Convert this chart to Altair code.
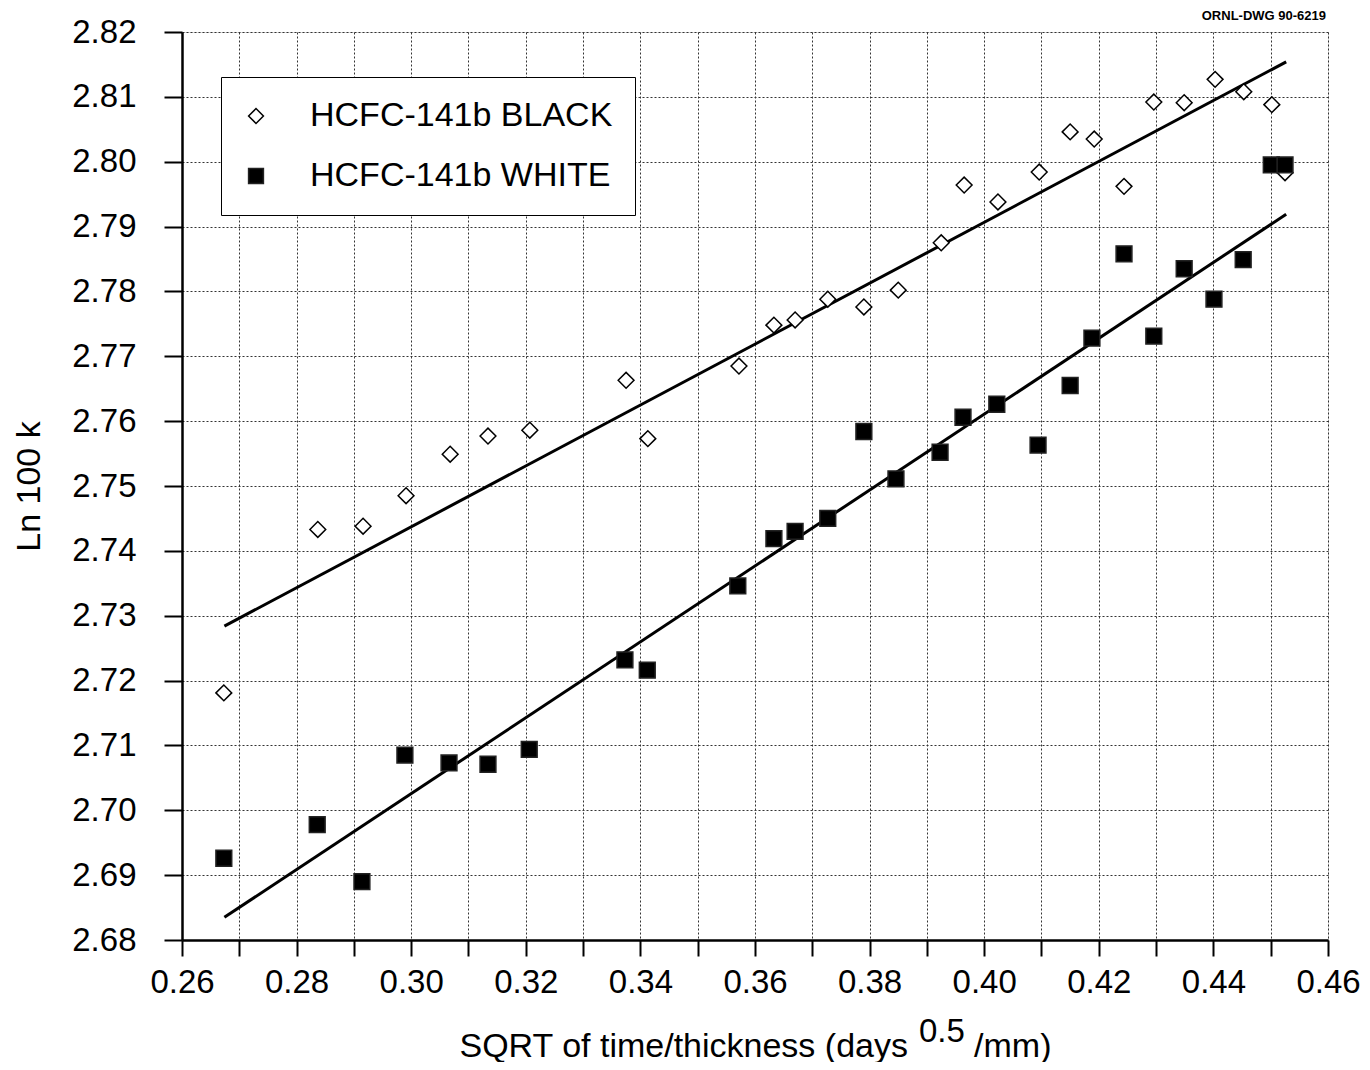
import altair as alt
import pandas as pd

# ---- data ----
sqrt_t = [0.2673, 0.2837, 0.2916, 0.2991, 0.3068, 0.3134, 0.3207, 0.3375, 0.3413,
          0.3572, 0.3633, 0.3670, 0.3727, 0.3790, 0.3850, 0.3925, 0.3965, 0.4024,
          0.4096, 0.4150, 0.4192, 0.4244, 0.4296, 0.4349, 0.4403, 0.4453, 0.4502, 0.4525]
black_ln = [2.7181, 2.7433, 2.7438, 2.7485, 2.7549, 2.7577, 2.7586, 2.7663, 2.7573,
            2.7685, 2.7748, 2.7756, 2.7788, 2.7776, 2.7802, 2.7875, 2.7964, 2.7938,
            2.7984, 2.8046, 2.8035, 2.7962, 2.8092, 2.8091, 2.8127, 2.8108, 2.8088, 2.7983]
sqrt_t_w = [0.2673, 0.2836, 0.2914, 0.2989, 0.3066, 0.3134, 0.3206, 0.3373, 0.3412,
            0.3570, 0.3633, 0.3670, 0.3727, 0.3790, 0.3846, 0.3923, 0.3963, 0.4022,
            0.4094, 0.4150, 0.4188, 0.4244, 0.4296, 0.4349, 0.4401, 0.4452, 0.4501, 0.4525]
white_ln = [2.6926, 2.6978, 2.6890, 2.7085, 2.7073, 2.7071, 2.7094, 2.7232, 2.7216,
            2.7346, 2.7419, 2.7430, 2.7450, 2.7584, 2.7511, 2.7552, 2.7606, 2.7626,
            2.7563, 2.7655, 2.7728, 2.7858, 2.7731, 2.7835, 2.7788, 2.7849, 2.7995, 2.7995]

fit_x = [0.2674, 0.4527]
fit_black = [2.7284, 2.8154]
fit_white = [2.6835, 2.7919]

series_names = ["HCFC-141b BLACK", "HCFC-141b WHITE"]
x_ticks = [0.26, 0.27, 0.28, 0.29, 0.30, 0.31, 0.32, 0.33, 0.34, 0.35, 0.36,
           0.37, 0.38, 0.39, 0.40, 0.41, 0.42, 0.43, 0.44, 0.45, 0.46]
y_ticks = [2.68, 2.69, 2.70, 2.71, 2.72, 2.73, 2.74, 2.75, 2.76, 2.77, 2.78,
           2.79, 2.80, 2.81, 2.82]

pts = pd.DataFrame({
    "x": sqrt_t + sqrt_t_w,
    "y": black_ln + white_ln,
    "series": [series_names[0]] * len(sqrt_t) + [series_names[1]] * len(sqrt_t_w),
})
fits = pd.DataFrame({
    "x": fit_x + fit_x,
    "y": fit_black + fit_white,
    "series": [series_names[0]] * 2 + [series_names[1]] * 2,
})

REG = "Liberation Sans, Arial, Helvetica"
NB = "\u00a0"

xscale = alt.Scale(domain=[0.26, 0.46], nice=False, zero=False)
yscale = alt.Scale(domain=[2.68, 2.82], nice=False, zero=False)

xaxis = alt.Axis(
    values=x_ticks,
    labelExpr="round(datum.value*100) % 2 == 0 ? format(datum.value, '.2f') : ''",
    labelFont=REG, labelFontSize=33, labelColor="black", labelPadding=10,
    labelFlush=False, labelOverlap=False,
    tickSize=16, tickWidth=2, tickColor="black",
    domainColor="black", domainWidth=2.5,
    grid=True, gridDash=[2, 2], gridColor="#333", gridWidth=1,
    title="SQRT of time/thickness (days" + NB * 7 + "/mm)",
    titleFont=REG, titleFontSize=34, titleFontWeight="normal", titleColor="black",
    titlePadding=30,
)
yaxis = alt.Axis(
    values=y_ticks, format=".2f",
    labelFont=REG, labelFontSize=33, labelColor="black", labelPadding=28,
    labelOverlap=False,
    tickSize=18, tickWidth=2, tickColor="black",
    domainColor="black", domainWidth=2.5,
    grid=True, gridDash=[2, 2], gridColor="#333", gridWidth=1,
    title="Ln 100 k",
    titleFont=REG, titleFontSize=34, titleFontWeight="normal", titleColor="black",
    titlePadding=25,
)

legend = alt.Legend(
    title=None, orient="none", legendX=39, legendY=45,
    labelFont=REG, labelFontSize=34, labelColor="black", labelLimit=500,
    labelOffset=37, symbolOffset=-4, symbolSize=220, symbolStrokeWidth=1.5,
    rowPadding=26, padding=22, strokeColor="black", fillColor="white",
)

points = alt.Chart(pts).mark_point(filled=True, size=250, strokeWidth=1.5, opacity=1).encode(
    x=alt.X("x:Q", scale=xscale, axis=xaxis),
    y=alt.Y("y:Q", scale=yscale, axis=yaxis),
    shape=alt.Shape("series:N", scale=alt.Scale(domain=series_names, range=["diamond", "square"]), legend=legend),
    fill=alt.Fill("series:N", scale=alt.Scale(domain=series_names, range=["white", "black"]), legend=legend),
    stroke=alt.Stroke("series:N", scale=alt.Scale(domain=series_names, range=["black", "#222"]), legend=legend),
)

lines = alt.Chart(fits).mark_line(color="black", strokeWidth=3).encode(
    x=alt.X("x:Q", scale=xscale),
    y=alt.Y("y:Q", scale=yscale),
    detail="series:N",
)

sup = alt.Chart(pd.DataFrame({"t": ["0.5"]})).mark_text(
    font=REG, fontSize=33, align="left", baseline="alphabetic", color="black"
).encode(x=alt.value(737), y=alt.value(1010), text="t:N")

ornl = alt.Chart(pd.DataFrame({"t": ["ORNL-DWG 90-6219"]})).mark_text(
    font=REG, fontSize=13, fontWeight="bold", align="right", baseline="alphabetic", color="black"
).encode(x=alt.value(1144), y=alt.value(-12), text="t:N")

chart = alt.layer(lines, points, sup, ornl).properties(
    width=1146, height=908,
    autosize=alt.AutoSizeParams(type="none"),
    padding={"left": 174, "top": 24, "right": 34, "bottom": 122},
).configure_view(stroke="black", strokeWidth=2).configure(background="white")

chart.save("out.html", embed_options={"renderer": "svg", "actions": False})
